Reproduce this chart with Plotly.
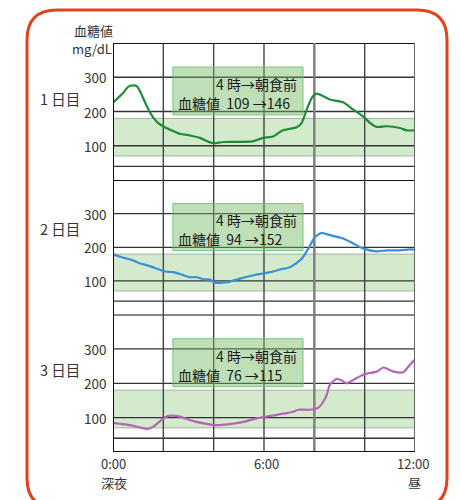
import plotly.graph_objects as go

# ---- data ----
hours1 = [0, 0.41, 0.6, 0.79, 0.94, 1.07, 1.34, 1.6, 1.79, 1.99, 2.27, 2.66, 3.06, 3.46, 3.85, 4.12, 4.37,
          5.56, 5.96, 6.36, 6.75, 7.3, 7.5, 7.7, 7.9, 8.09, 8.34, 8.62, 9.14, 9.54, 9.93, 10.21, 10.48,
          10.87, 11.4, 11.67, 12]
day1 = [226, 255, 272, 276, 274, 260, 216, 182, 167, 157, 147, 135, 130, 123, 110, 108, 111,
        113, 123, 127, 145, 154, 167, 206, 240, 252, 245, 235, 227, 206, 186, 167, 155,
        157, 152, 145, 145]

hours2 = [0, 0.41, 0.81, 1.0, 1.47, 2.07, 2.4, 2.73, 3.06, 3.33, 3.59, 3.85, 4.05, 4.52, 5.05, 5.71,
          6.24, 6.64, 7.03, 7.5, 7.76, 8.03, 8.29, 8.62, 9.15, 9.55, 9.95, 10.48, 10.87, 11.4, 11.8, 12]
day2 = [179, 169, 161, 154, 144, 128, 126, 119, 111, 111, 105, 104, 95, 96, 107, 119,
        126, 134, 141, 166, 196, 231, 243, 236, 226, 211, 196, 188, 191, 191, 194, 193]

hours3 = [0, 0.41, 0.81, 1.2, 1.4, 1.6, 1.87, 2.13, 2.33, 2.66, 3.19, 3.72, 4.05, 4.91, 5.31, 5.71,
          6.24, 6.9, 7.16, 7.36, 7.83, 8.16, 8.36, 8.49, 8.62, 8.89, 9.09, 9.29, 9.55, 10.01, 10.48,
          10.74, 11.14, 11.53, 11.8, 12]
day3 = [85, 81, 76, 69, 67, 74, 90, 103, 106, 103, 90, 82, 78, 84, 90, 98,
        105, 113, 117, 123, 123, 129, 147, 166, 196, 213, 208, 200, 210, 227, 234,
        246, 234, 232, 254, 269]

day_labels = ["1 日目", "2 日目", "3 日目"]
from_vals = [109, 94, 76]
to_vals = [146, 152, 115]
line_colors = ["#1f8a38", "#3a8fd6", "#b565b5"]
y_ticks = [100, 200, 300]
grid_y = [40, 100, 200, 300]
grid_x = [2, 4, 6, 8, 10]
target_low, target_high = 70, 180
x_tick_vals = [0, 6, 12]
x_tick_text = ["0:00", "6:00", "12:00"]
x_sub_text = ["深夜", "", "昼"]

FONT = "Noto Sans CJK JP"

# ---- layout geometry (screen pixels; page body has an 8px margin) ----
OFF = 8
W, H = 460 - OFF, 500 - OFF
PL, PR, PT, PB = 113, 415, 43, 452          # plot area in screen pixels
L, T = PL - OFF, PT - OFF
R, B = W - (PR - OFF), H - (PB - OFF)
PW, PH = PR - PL, PB - PT


def px(x):
    return (x - PL) / PW


def py(y):
    return (PB - y) / PH


domains = [[0.665, 1.0], [0.336, 0.665], [0.0, 0.336]]

fig = go.Figure()
series = [(hours1, day1), (hours2, day2), (hours3, day3)]
shapes = []
annotations = []

for i, (hx, vy) in enumerate(series):
    n = "" if i == 0 else str(i + 1)
    xa, ya = "x" + n, "y" + n
    fig.add_trace(go.Scatter(x=hx, y=vy, mode="lines", xaxis=xa, yaxis=ya,
                             line=dict(color=line_colors[i], width=2.2, shape="spline", smoothing=0.6),
                             showlegend=False, hoverinfo="skip"))
    # target band
    shapes.append(dict(type="rect", xref=xa, yref=ya, x0=0, x1=12, y0=target_low, y1=target_high,
                       fillcolor="rgba(120,190,100,0.33)", line=dict(color="rgba(110,130,110,0.55)", width=1),
                       layer="below"))
    # horizontal grid
    for gy in grid_y:
        shapes.append(dict(type="line", xref=xa, yref=ya, x0=0, x1=12, y0=gy, y1=gy,
                           line=dict(color="#333333", width=1.3), layer="below"))
    # top border
    shapes.append(dict(type="line", xref=xa, yref=ya, x0=0, x1=12, y0=400, y1=400,
                       line=dict(color="#111111", width=2), layer="below"))
    # vertical grid
    for gx in grid_x:
        if gx == 8:
            c, w = "#808080", 2.5
        else:
            c, w = "#444444", 1.4
        shapes.append(dict(type="line", xref=xa, yref=ya, x0=gx, x1=gx, y0=0, y1=400,
                           line=dict(color=c, width=w), layer="below"))
    # info box
    shapes.append(dict(type="rect", xref=xa, yref=ya, x0=2.38, x1=7.55, y0=190, y1=330,
                       fillcolor="rgba(110,185,95,0.45)", line=dict(color="rgba(100,195,100,0.85)", width=1),
                       layer="above"))
    annotations.append(dict(xref=xa, yref=ya, x=7.4, y=280, xanchor="right", yanchor="middle",
                            text="4 時→朝食前", showarrow=False,
                            font=dict(family=FONT, size=14, color="#1a1a1a")))
    annotations.append(dict(xref=xa, yref=ya, x=2.52, y=225, xanchor="left", yanchor="middle",
                            text=f"血糖値  {from_vals[i]} →{to_vals[i]}", showarrow=False,
                            font=dict(family=FONT, size=14, color="#1a1a1a")))
    # y tick labels
    for tv in y_ticks:
        annotations.append(dict(xref="paper", yref=ya, x=px(108), y=tv, xanchor="right", yanchor="middle",
                                text=str(tv), showarrow=False,
                                font=dict(family=FONT, size=13.5, color="#333333")))
    # day label
    annotations.append(dict(xref="paper", yref="paper", x=px(38), y=py([99, 228, 369][i]),
                            xanchor="left", yanchor="middle", text=day_labels[i], showarrow=False,
                            font=dict(family=FONT, size=14.5, color="#333333")))
    fig.update_layout(**{
        ("xaxis" + n): dict(range=[0, 12], domain=[0, 1], showgrid=False, zeroline=False,
                            showticklabels=False, ticks="", showline=False,
                            **({} if i == 0 else {"matches": "x"})),
        ("yaxis" + n): dict(range=[0, 400], domain=domains[i], showgrid=False, zeroline=False,
                            showticklabels=False, ticks="", showline=False, anchor="x" + n),
    })

# outer vertical borders and bottom line
shapes.append(dict(type="line", xref="x", yref="paper", x0=0, x1=0, y0=0, y1=1,
                   line=dict(color="#111111", width=2)))
shapes.append(dict(type="line", xref="x", yref="paper", x0=12, x1=12, y0=0, y1=1,
                   line=dict(color="#666666", width=2)))
shapes.append(dict(type="line", xref="x3", yref="y3", x0=0, x1=12, y0=0, y1=0,
                   line=dict(color="#111111", width=2)))

# rounded orange frame
x0f, x1f, y0f, y1f, r = 27, 447, 10, 508, 30
path = (f"M {px(x0f)},{py(y0f + r)} Q {px(x0f)},{py(y0f)} {px(x0f + r)},{py(y0f)} "
        f"L {px(x1f - r)},{py(y0f)} Q {px(x1f)},{py(y0f)} {px(x1f)},{py(y0f + r)} "
        f"L {px(x1f)},{py(y1f - r)} Q {px(x1f)},{py(y1f)} {px(x1f - r)},{py(y1f)} "
        f"L {px(x0f + r)},{py(y1f)} Q {px(x0f)},{py(y1f)} {px(x0f)},{py(y1f - r)} Z")
shapes.append(dict(type="path", xref="paper", yref="paper", path=path,
                   line=dict(color="#e0441c", width=3), fillcolor="rgba(0,0,0,0)"))

# unit labels
annotations.append(dict(xref="paper", yref="paper", x=px(72), y=py(30), xanchor="left", yanchor="middle",
                        text="血糖値", showarrow=False, font=dict(family=FONT, size=13, color="#333333")))
annotations.append(dict(xref="paper", yref="paper", x=px(114), y=py(48.5), xanchor="right", yanchor="middle",
                        text="mg/dL", showarrow=False, font=dict(family=FONT, size=13, color="#333333")))

# x labels
x_px = [113, 266, 413]
for i, (tv, tt, st) in enumerate(zip(x_tick_vals, x_tick_text, x_sub_text)):
    annotations.append(dict(xref="paper", yref="paper", x=px(x_px[i]), y=py(464), xanchor="center",
                            yanchor="middle", text=tt, showarrow=False,
                            font=dict(family=FONT, size=13, color="#333333")))
    if st:
        annotations.append(dict(xref="paper", yref="paper", x=px(x_px[i] + 1), y=py(482.5),
                                xanchor="center", yanchor="middle", text=st, showarrow=False,
                                font=dict(family=FONT, size=13, color="#333333")))

fig.update_layout(width=W, height=H, margin=dict(l=L, r=R, t=T, b=B),
                  paper_bgcolor="white", plot_bgcolor="white",
                  shapes=shapes, annotations=annotations, showlegend=False,
                  font=dict(family=FONT))
fig.write_html("out.html")
